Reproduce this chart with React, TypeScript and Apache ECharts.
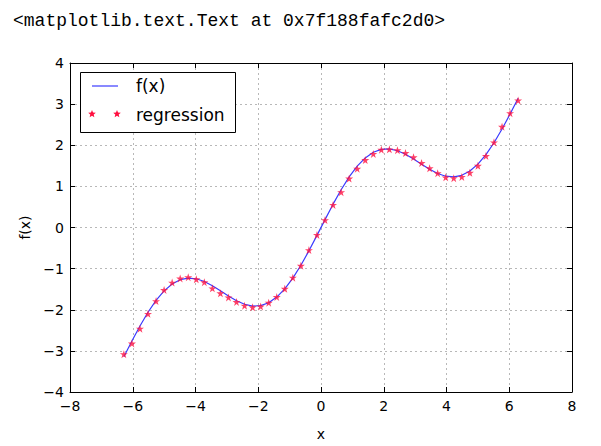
import React, { useEffect, useRef } from "react";
import * as echarts from "echarts";

const xValues = [
  -6.2832, -6.0267, -5.7703, -5.5138, -5.2574, -5.0009, -4.7445, -4.488, -4.2315, -3.9751,
  -3.7186, -3.4622, -3.2057, -2.9493, -2.6928, -2.4363, -2.1799, -1.9234, -1.667, -1.4105,
  -1.1541, -0.8976, -0.6411, -0.3847, -0.1282, 0.1282, 0.3847, 0.6411, 0.8976, 1.1541,
  1.4105, 1.667, 1.9234, 2.1799, 2.4363, 2.6928, 2.9493, 3.2057, 3.4622, 3.7186,
  3.9751, 4.2315, 4.488, 4.7445, 5.0009, 5.2574, 5.5138, 5.7703, 6.0267, 6.2832,
];

const fValues = [
  -3.1416, -2.7597, -2.3944, -2.0611, -1.7736, -1.5418, -1.3727, -1.2691, -1.2295, -1.2475,
  -1.3138, -1.416, -1.5388, -1.6657, -1.7803, -1.8653, -1.9101, -1.9, -1.8289, -1.6925,
  -1.4914, -1.2306, -0.9187, -0.5676, -0.192, 0.192, 0.5676, 0.9187, 1.2306, 1.4914,
  1.6925, 1.8289, 1.9, 1.9101, 1.8653, 1.7803, 1.6657, 1.5388, 1.416, 1.3138,
  1.2475, 1.2295, 1.2691, 1.3727, 1.5418, 1.7736, 2.0611, 2.3944, 2.7597, 3.1416,
];

const regressionValues = [
  -3.08, -2.82, -2.46, -2.1, -1.79, -1.52, -1.34, -1.24, -1.21, -1.26,
  -1.33, -1.48, -1.6, -1.7, -1.81, -1.9, -1.94, -1.92, -1.83, -1.69,
  -1.49, -1.22, -0.93, -0.55, -0.18, 0.18, 0.55, 0.86, 1.19, 1.43,
  1.64, 1.79, 1.89, 1.9, 1.88, 1.81, 1.71, 1.57, 1.44, 1.32,
  1.22, 1.2, 1.23, 1.33, 1.5, 1.74, 2.07, 2.45, 2.78, 3.09,
];

const xTicks = { min: -8, max: 8, interval: 2 };
const yTicks = { min: -4, max: 4, interval: 1 };

const titleText = "<matplotlib.text.Text at 0x7f188fafc2d0>";
const legendLabels = ["f(x)", "regression"];

const STAR =
  "path://M0,-1 L0.22,-0.31 L0.95,-0.31 L0.36,0.12 L0.59,0.81 L0,0.38 L-0.59,0.81 L-0.36,0.12 L-0.95,-0.31 L-0.22,-0.31 Z";

const minusFmt = (v: number) => (v < 0 ? "\u2212" + Math.abs(v) : String(v));

const starPts = (cx: number, cy: number, r: number) => {
  const pts: number[][] = [];
  for (let k = 0; k < 10; k++) {
    const a = -Math.PI / 2 + (k * Math.PI) / 5;
    const rr = k % 2 === 0 ? r : r * 0.45;
    pts.push([cx + rr * Math.cos(a), cy + rr * Math.sin(a)]);
  }
  return pts;
};

export default function App() {
  const ref = useRef<HTMLDivElement>(null);
  useEffect(() => {
    if (!ref.current) return;
    const chart = echarts.init(ref.current, undefined, { renderer: "svg" });
    const font = "DejaVu Sans";
    const gridLine = { show: true, lineStyle: { color: "#b8b8b8", type: [2, 3] as any, width: 1 } };
    const baseAxis = {
      axisLine: { show: true, onZero: false, lineStyle: { color: "#000", width: 1 } },
      axisTick: { show: true, inside: true, length: 5, lineStyle: { color: "#000" } },
    };
    chart.setOption({
      animation: false,
      backgroundColor: "#fff",
      title: {
        text: titleText,
        left: 8,
        top: 7,
        textStyle: { fontFamily: "Liberation Mono", fontSize: 18, fontWeight: "normal", color: "#000" },
      },
      grid: { left: 70, right: 29, top: 63, bottom: 49 },
      xAxis: [
        {
          type: "value",
          ...xTicks,
          ...baseAxis,
          splitLine: gridLine,
          name: "x",
          nameLocation: "middle",
          nameGap: 35,
          nameTextStyle: { fontFamily: font, fontSize: 14, color: "#000" },
          axisLabel: { fontFamily: font, fontSize: 14, color: "#000", margin: 7, formatter: minusFmt },
        },
        {
          type: "value",
          position: "top",
          ...xTicks,
          ...baseAxis,
          splitLine: { show: false },
          axisLabel: { show: false },
        },
      ],
      yAxis: [
        {
          type: "value",
          ...yTicks,
          ...baseAxis,
          splitLine: gridLine,
          name: "f(x)",
          nameLocation: "middle",
          nameGap: 36,
          nameTextStyle: { fontFamily: font, fontSize: 14, color: "#000" },
          axisLabel: { fontFamily: font, fontSize: 14, color: "#000", margin: 6, formatter: minusFmt },
        },
        {
          type: "value",
          position: "right",
          ...yTicks,
          ...baseAxis,
          splitLine: { show: false },
          axisLabel: { show: false },
        },
      ],
      series: [
        {
          name: legendLabels[0],
          type: "line",
          data: xValues.map((x, i) => [x, fValues[i]]),
          showSymbol: false,
          lineStyle: { color: "#3a3aff", width: 1.2 },
          z: 2,
        },
        {
          name: legendLabels[1],
          type: "scatter",
          data: xValues.map((x, i) => [x, regressionValues[i]]),
          symbol: STAR,
          symbolSize: 8,
          itemStyle: { color: "#ff1040" },
          z: 3,
        },
      ],
      graphic: [
        {
          type: "rect",
          shape: { x: 80.5, y: 72.5, width: 155, height: 60 },
          style: { fill: "#fff", stroke: "#000", lineWidth: 1 },
          z: 10,
        },
        {
          type: "line",
          shape: { x1: 92, y1: 86, x2: 118, y2: 86 },
          style: { stroke: "#3a3aff", lineWidth: 1.2 },
          z: 11,
        },
        {
          type: "text",
          x: 136,
          y: 86,
          style: { text: legendLabels[0], fontFamily: font, fontSize: 17, fill: "#000", verticalAlign: "middle" },
          z: 11,
        },
        {
          type: "text",
          x: 136,
          y: 115,
          style: { text: legendLabels[1], fontFamily: font, fontSize: 17, fill: "#000", verticalAlign: "middle" },
          z: 11,
        },
        {
          type: "polygon",
          shape: { points: starPts(92, 114, 4) },
          style: { fill: "#ff1040" },
          z: 12,
        },
        {
          type: "polygon",
          shape: { points: starPts(117, 114, 4) },
          style: { fill: "#ff1040" },
          z: 12,
        },
      ],
    });
    return () => chart.dispose();
  }, []);
  return <div ref={ref} style={{ width: 601, height: 446, position: "absolute", left: 0, top: 0 }} />;
}
